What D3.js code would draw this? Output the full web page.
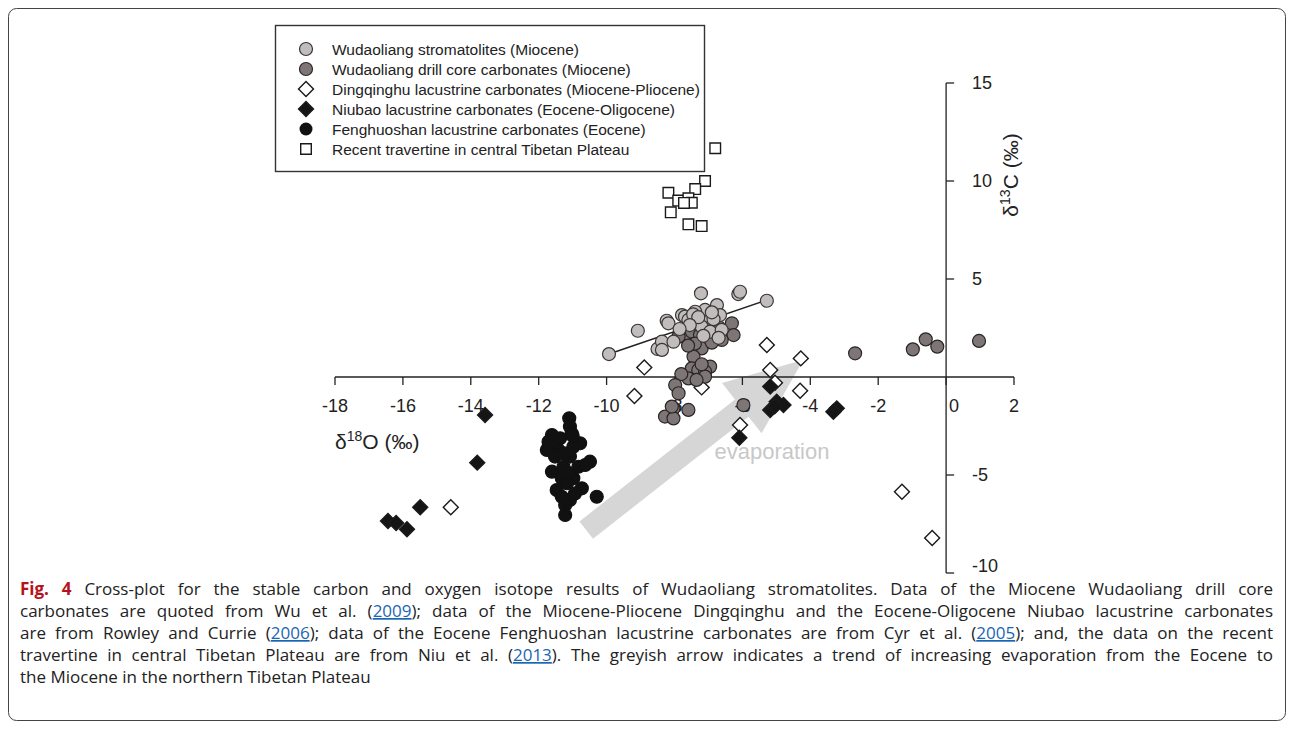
<!DOCTYPE html>
<html>
<head>
<meta charset="utf-8">
<script src="https://cdn.jsdelivr.net/npm/d3@7"></script>
<style>
  body { margin: 0; background: #fff; }
  svg { display: block; }
</style>
</head>
<body>
<script>
// d18O, d13C pairs
var stromatolites = [
  [-9.93,1.17],[-9.08,2.36],[-8.50,1.43],[-8.37,1.80],[-8.23,2.87],[-8.18,2.74],
  [-8.03,1.80],[-8.37,1.38],[-7.22,4.27],[-6.12,4.23],[-6.07,4.35],[-5.28,3.89],
  [-6.75,3.67],[-6.66,3.16],[-7.10,3.42],[-7.39,3.33],[-7.78,3.16],[-7.69,3.08],
  [-7.59,2.91],[-7.00,2.82],[-7.20,2.57],[-6.95,2.31],[-6.61,2.40],[-6.85,2.95],
  [-7.45,3.20],[-7.30,3.05],[-6.90,3.30],[-7.55,2.65],[-7.15,2.10],[-6.70,2.00],
  [-7.85,2.45]
];
var drillCore = [
  [-7.34,2.82],[-6.31,2.74],[-6.26,2.14],[-6.61,1.89],[-6.80,2.40],[-7.10,1.97],
  [-7.05,1.80],[-7.30,1.55],[-7.49,1.89],[-7.64,2.23],[-7.88,2.06],[-7.49,2.31],
  [-7.20,1.46],[-7.44,1.04],[-7.49,0.44],[-7.30,0.36],[-6.95,0.53],[-7.10,0.27],
  [-7.10,0.02],[-7.59,-0.07],[-7.35,-0.15],[-7.25,2.15],[-7.00,2.25],[-7.40,1.70],
  [-6.90,1.75],[-7.15,2.60],[-7.60,1.60],[-6.70,2.55],[-7.80,0.15],[-7.20,0.65],
  [-7.98,-0.41],[-7.88,-0.83],[-8.03,-1.60],[-8.28,-2.02],[-8.03,-2.11],[-7.59,-1.68],
  [-8.08,-1.51],[-5.97,-1.43],[-2.68,1.21],[-0.98,1.41],[-0.60,1.92],[-0.26,1.55],
  [0.97,1.84]
];
var dingqinghu = [
  [-5.28,1.63],[-4.28,0.95],[-5.18,0.36],[-5.04,-0.29],[-4.30,-0.70],[-6.07,-2.45],
  [-7.20,-0.53],[-8.89,0.49],[-9.18,-0.97],[-14.59,-6.65],[-1.30,-5.85],[-0.41,-8.21]
];
var niubao = [
  [-13.58,-1.94],[-13.81,-4.37],[-15.49,-6.65],[-15.88,-7.77],[-16.44,-7.35],[-16.20,-7.45],
  [-5.18,-0.49],[-4.99,-1.26],[-4.79,-1.43],[-5.18,-1.68],[-5.05,-1.50],[-3.22,-1.60],
  [-3.32,-1.77],[-6.09,-3.10]
];
var fenghuoshan = [
  [-11.10,-2.11],[-11.08,-2.53],[-11.03,-2.87],[-11.61,-2.96],[-11.71,-3.30],[-11.76,-3.72],
  [-11.37,-3.13],[-10.78,-3.38],[-10.98,-3.56],[-11.42,-3.72],[-11.52,-4.06],[-11.08,-4.06],
  [-10.83,-4.58],[-10.49,-4.32],[-10.63,-4.49],[-11.61,-4.83],[-11.27,-4.58],[-11.32,-5.17],
  [-10.98,-5.17],[-11.17,-5.42],[-10.73,-5.68],[-11.47,-5.77],[-10.29,-6.11],[-11.32,-6.11],
  [-11.08,-6.28],[-11.22,-6.53],[-11.22,-7.04],[-10.93,-5.94],[-11.12,-4.90],[-11.70,-3.50],
  [-11.00,-3.00],[-11.25,-3.90]
];
var travertine = [
  [-6.80,11.67],[-7.10,10.00],[-7.39,9.59],[-8.18,9.40],[-7.89,9.00],[-7.59,9.12],
  [-7.49,8.89],[-7.72,8.88],[-8.11,8.40],[-7.59,7.79],[-7.20,7.70]
];
var trendLine = [[-9.93,1.17],[-5.28,3.93]];
var evapArrow = [[-10.60,-7.81],[-4.21,0.87]];

var xTicks = [-18,-16,-14,-12,-10,-8,-6,-4,-2,0,2];
var yTicks = [15,10,5,-5,-10];

var legendLabels = [
  "Wudaoliang stromatolites (Miocene)",
  "Wudaoliang drill core carbonates (Miocene)",
  "Dingqinghu lacustrine carbonates (Miocene-Pliocene)",
  "Niubao lacustrine carbonates (Eocene-Oligocene)",
  "Fenghuoshan lacustrine carbonates (Eocene)",
  "Recent travertine in central Tibetan Plateau"
];

var caption = [
  [["b","Fig. 4"],["t"," Cross-plot for the stable carbon and oxygen isotope results of Wudaoliang stromatolites. Data of the Miocene Wudaoliang drill core"]],
  [["t","carbonates are quoted from Wu et al. ("],["a","2009"],["t","); data of the Miocene-Pliocene Dingqinghu and the Eocene-Oligocene Niubao lacustrine carbonates"]],
  [["t","are from Rowley and Currie ("],["a","2006"],["t","); data of the Eocene Fenghuoshan lacustrine carbonates are from Cyr et al. ("],["a","2005"],["t","); and, the data on the recent"]],
  [["t","travertine in central Tibetan Plateau are from Niu et al. ("],["a","2013"],["t","). The greyish arrow indicates a trend of increasing evaporation from the Eocene to"]],
  [["t","the Miocene in the northern Tibetan Plateau"]]
];

var width = 1293, height = 732;
var font = "'Liberation Sans', Arial, sans-serif";

var svg = d3.select("body").append("svg")
    .attr("width", width)
    .attr("height", height);

// figure frame
svg.append("rect")
    .attr("x", 8.5).attr("y", 8.5)
    .attr("width", 1277).attr("height", 712)
    .attr("rx", 8)
    .attr("fill", "none")
    .attr("stroke", "#444")
    .attr("stroke-width", 1);

var x = d3.scaleLinear().domain([-18, 2]).range([335, 1014]);
var y = d3.scaleLinear().domain([-10, 15]).range([573, 83]);

var g = svg.append("g");

// evaporation arrow (behind the points)
var a0 = [x(evapArrow[0][0]), y(evapArrow[0][1])],
    a1 = [x(evapArrow[1][0]), y(evapArrow[1][1])];
var dx = a1[0] - a0[0], dy = a1[1] - a0[1], len = Math.hypot(dx, dy);
var ux = dx / len, uy = dy / len, nx = -uy, ny = ux;
var sw = 11, hw = 32, hl = 78;
var hb = [a1[0] - ux * hl, a1[1] - uy * hl];
var arrowPts = [
  [a0[0] + nx * sw, a0[1] + ny * sw],
  [hb[0] + nx * sw, hb[1] + ny * sw],
  [hb[0] + nx * hw, hb[1] + ny * hw],
  a1,
  [hb[0] - nx * hw, hb[1] - ny * hw],
  [hb[0] - nx * sw, hb[1] - ny * sw],
  [a0[0] - nx * sw, a0[1] - ny * sw]
];
g.append("path")
    .attr("d", "M" + arrowPts.join("L") + "Z")
    .attr("fill", "#d6d6d6");

g.append("text")
    .attr("x", x(-5.13)).attr("y", y(-3.83) + 7)
    .attr("text-anchor", "middle")
    .style("font-family", font)
    .style("font-size", "22px")
    .attr("fill", "#c8c8c8")
    .text("evaporation");

// axes
var xAxis = g.append("g");
xAxis.append("line")
    .attr("x1", x(-18)).attr("x2", x(2))
    .attr("y1", y(0)).attr("y2", y(0))
    .attr("stroke", "#222").attr("stroke-width", 1.3);
xAxis.selectAll(".xt").data(xTicks).join("line")
    .attr("x1", d => x(d)).attr("x2", d => x(d))
    .attr("y1", y(0)).attr("y2", y(0) + 8)
    .attr("stroke", "#222").attr("stroke-width", 1.3);
xAxis.selectAll(".xl").data(xTicks).join("text")
    .attr("x", d => x(d) + (d === 0 ? 8 : 0))
    .attr("y", y(0) + 35)
    .attr("text-anchor", "middle")
    .style("font-family", font)
    .style("font-size", "18px")
    .attr("fill", "#222")
    .text(d => d);

var yAxis = g.append("g");
yAxis.append("line")
    .attr("x1", x(0)).attr("x2", x(0))
    .attr("y1", y(15)).attr("y2", y(-10))
    .attr("stroke", "#222").attr("stroke-width", 1.3);
yAxis.selectAll(".yt").data(yTicks).join("line")
    .attr("x1", x(0)).attr("x2", x(0) + 8)
    .attr("y1", d => y(d)).attr("y2", d => y(d))
    .attr("stroke", "#222").attr("stroke-width", 1.3);
yAxis.selectAll(".yl").data(yTicks).join("text")
    .attr("x", x(0) + 26)
    .attr("y", d => y(d) + (d === -10 ? -1 : 6))
    .style("font-family", font)
    .style("font-size", "18px")
    .attr("fill", "#222")
    .text(d => d);

// axis titles
var xt = g.append("text")
    .attr("x", 335).attr("y", 449)
    .style("font-family", font)
    .style("font-size", "21px")
    .attr("fill", "#222");
xt.append("tspan").text("\u03b4");
xt.append("tspan").attr("dy", -8).style("font-size", "14px").text("18");
xt.append("tspan").attr("dy", 8).text("O (\u2030)");

var yt = g.append("text")
    .attr("transform", "translate(1018,175) rotate(-90)")
    .attr("text-anchor", "middle")
    .style("font-family", font)
    .style("font-size", "21px")
    .attr("fill", "#222");
yt.append("tspan").text("\u03b4");
yt.append("tspan").attr("dy", -8).style("font-size", "14px").text("13");
yt.append("tspan").attr("dy", 8).text("C (\u2030)");

// trend line for stromatolites
g.append("line")
    .attr("x1", x(trendLine[0][0])).attr("y1", y(trendLine[0][1]))
    .attr("x2", x(trendLine[1][0])).attr("y2", y(trendLine[1][1]))
    .attr("stroke", "#222").attr("stroke-width", 1.5);

var diamond = d3.symbol().type(d3.symbolSquare).size(112);
var square = d3.symbol().type(d3.symbolSquare).size(112);

function circles(data, fill, stroke) {
  g.append("g").selectAll("circle").data(data).join("circle")
      .attr("cx", d => x(d[0])).attr("cy", d => y(d[1]))
      .attr("r", 6.5)
      .attr("fill", fill)
      .attr("stroke", stroke)
      .attr("stroke-width", 1.2);
}
function shapes(data, sym, rot, fill) {
  g.append("g").selectAll("path").data(data).join("path")
      .attr("d", sym)
      .attr("transform", d => "translate(" + x(d[0]) + "," + y(d[1]) + ") rotate(" + rot + ")")
      .attr("fill", fill)
      .attr("stroke", "#1a1a1a")
      .attr("stroke-width", 1.4);
}

shapes(travertine, square, 0, "#fff");
shapes(dingqinghu, diamond, 45, "#fff");
circles(drillCore, "#7e7676", "#2a2626");
circles(stromatolites, "#c2bdbd", "#3a3636");
shapes(niubao, diamond, 45, "#151515");
circles(fenghuoshan, "#111", "#111");

// legend
var lg = g.append("g");
lg.append("rect")
    .attr("x", 275.5).attr("y", 25.5)
    .attr("width", 429).attr("height", 146)
    .attr("fill", "#fff")
    .attr("stroke", "#333").attr("stroke-width", 1.4);
var lrow = d3.range(legendLabels.length);
lrow.forEach(function(i) {
  var ly = 49 + i * 20, lx = 306;
  if (i === 0) lg.append("circle").attr("cx", lx).attr("cy", ly).attr("r", 6.5)
      .attr("fill", "#c2bdbd").attr("stroke", "#3a3636").attr("stroke-width", 1.2);
  if (i === 1) lg.append("circle").attr("cx", lx).attr("cy", ly).attr("r", 6.5)
      .attr("fill", "#7e7676").attr("stroke", "#2a2626").attr("stroke-width", 1.2);
  if (i === 2 || i === 3) lg.append("path").attr("d", diamond)
      .attr("transform", "translate(" + lx + "," + ly + ") rotate(45)")
      .attr("fill", i === 2 ? "#fff" : "#151515").attr("stroke", "#1a1a1a").attr("stroke-width", 1.4);
  if (i === 4) lg.append("circle").attr("cx", lx).attr("cy", ly).attr("r", 6.5).attr("fill", "#111");
  if (i === 5) lg.append("path").attr("d", square)
      .attr("transform", "translate(" + lx + "," + ly + ")")
      .attr("fill", "#fff").attr("stroke", "#1a1a1a").attr("stroke-width", 1.4);
  lg.append("text")
      .attr("x", 332).attr("y", ly + 5.5)
      .style("font-family", font)
      .style("font-size", "15.5px")
      .attr("fill", "#222")
      .text(legendLabels[i]);
});

// caption: size the font so the first line almost fills the width, then justify
var capW = 1253;
var cap = svg.append("g")
    .style("font-family", "'Open Sans', 'Noto Sans', sans-serif")
    .style("font-size", "15px");
var lines = caption.map(function(line, i) {
  var t = cap.append("text")
      .attr("x", 20).attr("y", 595 + i * 22)
      .attr("fill", "#222");
  line.forEach(function(s) {
    var sp = t.append("tspan").text(s[1]);
    if (s[0] === "b") sp.style("font-weight", "bold").attr("fill", "#b5121b");
    if (s[0] === "a") sp.attr("fill", "#1a66b3").style("text-decoration", "underline");
  });
  return t;
});
var widest = d3.max(lines, t => t.node().getComputedTextLength());
var fs = Math.min(17, 15 * (capW - 12) / widest);
cap.style("font-size", fs + "px");
lines.forEach(function(t, i) {
  if (i === lines.length - 1) return;
  var full = caption[i].map(s => s[1]).join("");
  var spaces = (full.match(/ /g) || []).length;
  var w = t.node().getComputedTextLength();
  t.style("word-spacing", ((capW - w) / spaces) + "px");
});
</script>
</body>
</html>
